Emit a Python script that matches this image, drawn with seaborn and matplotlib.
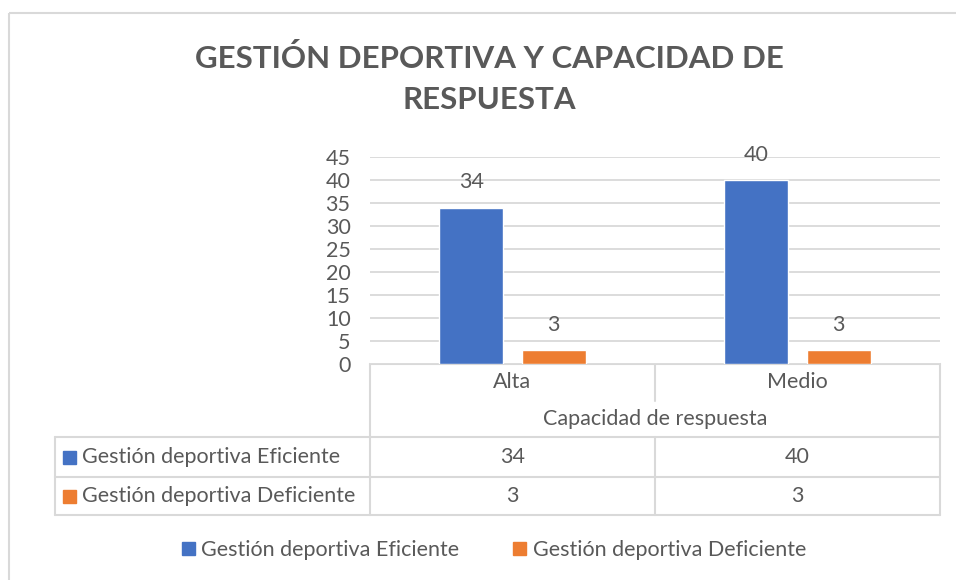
import matplotlib
matplotlib.use('Agg')
import matplotlib.pyplot as plt
import seaborn as sns
import pandas as pd
from matplotlib.patches import Patch, Rectangle

# data
categorias = ['Alta', 'Medio']
series = ['Gestión deportiva Eficiente', 'Gestión deportiva Deficiente']
eficiente = [34, 40]
deficiente = [3, 3]
colores = ['#4472C4', '#ED7D31']
eje_x = 'Capacidad de respuesta'
titulo = 'GESTIÓN DEPORTIVA Y CAPACIDAD DE\nRESPUESTA'

df = pd.DataFrame({
    'categoria': categorias * 2,
    'serie': [series[0]] * 2 + [series[1]] * 2,
    'valor': eficiente + deficiente,
})

sns.set_style('white')
plt.rcParams['font.family'] = ['Lato', 'DejaVu Sans']
gris = '#595959'
linea = '#D9D9D9'

W, H = 956, 580
fig = plt.figure(figsize=(W / 100, H / 100), dpi=100)

# overlay in pixel coords for table / frame
ov = fig.add_axes([0, 0, 1, 1])
ov.set_xlim(0, W)
ov.set_ylim(H, 0)
ov.axis('off')
ov.add_patch(Rectangle((9, 13), 960, 600, fill=False, ec=linea, lw=1.5))

# main plot area
x0, x1, ytop, ybot = 370, 940, 157, 364
ax = fig.add_axes([x0 / W, 1 - ybot / H, (x1 - x0) / W, (ybot - ytop) / H])
sns.barplot(data=df, x='categoria', y='valor', hue='serie', palette=colores,
            width=0.576, gap=0.22, ax=ax, legend=False, saturation=1)
ax.set_xlim(-0.5, 1.5)
ax.set_ylim(0, 45)
ax.set_yticks(range(0, 50, 5))
ax.yaxis.grid(True, color=linea, lw=1.3)
ax.set_axisbelow(True)
for s in ax.spines.values():
    s.set_visible(False)
ax.set_xticks([])
ax.set_xlabel('')
ax.set_ylabel('')
fs = 15.5
ax.tick_params(axis='y', length=0, labelsize=fs, labelcolor=gris, pad=14)
for c in ax.containers:
    ax.bar_label(c, padding=11, fontsize=fs, color=gris)

fig.text(489 / W, 1 - 79 / H, titulo, ha='center', va='center', fontsize=22.5,
         fontweight='bold', color=gris, linespacing=1.6)


def cx(i):
    d = ax.transData.transform((i, 0))
    return ov.transData.inverted().transform(d)[0]


# table
lw = 1.5
xl, xm = 55, 655
rows = [364, 401, 437, 477, 515]
ov.plot([x0, x1], [rows[0], rows[0]], color=linea, lw=lw)
ov.plot([x0, x1], [rows[2], rows[2]], color=linea, lw=lw)
ov.plot([xl, x0], [rows[2], rows[2]], color=linea, lw=lw)
ov.plot([xl, x1], [rows[3], rows[3]], color=linea, lw=lw)
ov.plot([xl, x1], [rows[4], rows[4]], color=linea, lw=lw)
ov.plot([x0, x0], [rows[0], rows[4]], color=linea, lw=lw)
ov.plot([x1, x1], [rows[0], rows[4]], color=linea, lw=lw)
ov.plot([xl, xl], [rows[2], rows[4]], color=linea, lw=lw)
ov.plot([xm, xm], [rows[0], rows[1]], color=linea, lw=lw)
ov.plot([xm, xm], [rows[2], rows[4]], color=linea, lw=lw)

for i, cat in enumerate(categorias):
    ov.text(cx(i), (rows[0] + rows[1]) / 2, cat, ha='center', va='center',
            fontsize=fs, color=gris)
ov.text((x0 + x1) / 2, (rows[1] + rows[2]) / 2, eje_x, ha='center', va='center',
        fontsize=fs, color=gris)
for r, (nombre, vals, col) in enumerate(zip(series, [eficiente, deficiente], colores)):
    ym = (rows[2 + r] + rows[3 + r]) / 2
    ov.add_patch(Rectangle((63, ym - 6), 13, 13, color=col))
    ov.text(82, ym, nombre, ha='left', va='center', fontsize=fs, color=gris)
    for i, v in enumerate(vals):
        ov.text(cx(i), ym, str(v), ha='center', va='center', fontsize=fs, color=gris)

handles = [Patch(color=c, label=s) for c, s in zip(colores, series)]
fig.legend(handles=handles, loc='center', bbox_to_anchor=(494 / W, 1 - 550 / H),
           ncol=2, frameon=False, fontsize=fs, labelcolor=gris,
           handlelength=0.6, handleheight=0.6, handletextpad=0.3, columnspacing=2.5)

fig.savefig('out.png', dpi=100)
